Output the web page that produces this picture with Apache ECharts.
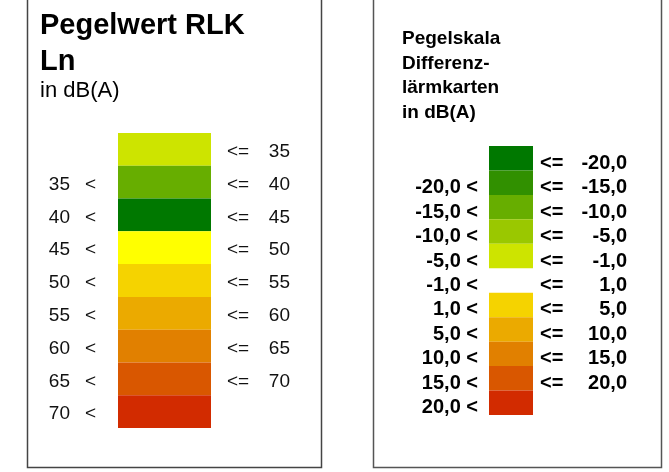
<!DOCTYPE html>
<html>
<head>
<meta charset="utf-8">
<script src="https://cdn.jsdelivr.net/npm/echarts@6/dist/echarts.min.js"></script>
<style>
  html, body { margin: 0; padding: 0; background: #fff; }
  #chart { width: 669px; height: 472px; }
</style>
</head>
<body>
<div id="chart"></div>
<script>
// Pegelwert RLK Ln (links)
const lnColors = ['#CDE400', '#67AE00', '#007800', '#FFFF00', '#F5D300', '#EBAA00', '#E18000', '#D95700', '#D22B00'];
const lnLower = ['', '35', '40', '45', '50', '55', '60', '65', '70'];
const lnUpper = ['35', '40', '45', '50', '55', '60', '65', '70', ''];

// Pegelskala Differenzlärmkarten (rechts), null = keine Farbe
const diffColors = ['#007800', '#319000', '#67AE00', '#9AC800', '#CDE400', null, '#F5D300', '#EBAA00', '#E18000', '#D95700', '#D22B00'];
const diffLower = ['', '-20,0', '-15,0', '-10,0', '-5,0', '-1,0', '1,0', '5,0', '10,0', '15,0', '20,0'];
const diffUpper = ['-20,0', '-15,0', '-10,0', '-5,0', '-1,0', '1,0', '5,0', '10,0', '15,0', '20,0', ''];

const FONT = "'Liberation Sans', Arial, sans-serif";

function rowData(colors) {
  return colors.map(c => c ? { value: 1, itemStyle: { color: c } } : '-');
}

function catAxis(gridIndex, colors, position, label) {
  return {
    type: 'category',
    gridIndex: gridIndex,
    position: position,
    inverse: true,
    data: colors.map((c, i) => String(i)),
    axisLine: { show: false },
    axisTick: { show: false },
    splitLine: { show: false },
    axisLabel: Object.assign({ interval: 0, padding: [5, 0, 0, 0] }, label)
  };
}

const boldLabel = { fontFamily: FONT, fontSize: 20, fontWeight: 'bold', color: '#000' };

const chart = echarts.init(document.getElementById('chart'));

chart.setOption({
  animation: false,
  backgroundColor: '#fff',
  title: [
    {
      text: 'Pegelwert RLK\nLn',
      left: 40,
      top: 8,
      padding: 0,
      textStyle: { fontFamily: FONT, fontSize: 29, fontWeight: 'bold', color: '#000', lineHeight: 36 }
    },
    {
      text: 'in dB(A)',
      left: 40,
      top: 79,
      padding: 0,
      textStyle: { fontFamily: FONT, fontSize: 22, fontWeight: 'normal', color: '#000', lineHeight: 24 }
    },
    {
      text: 'Pegelskala\nDifferenz-\nlärmkarten\nin dB(A)',
      left: 402,
      top: 27,
      padding: 0,
      textStyle: { fontFamily: FONT, fontSize: 19, fontWeight: 'bold', color: '#000', lineHeight: 24.5 }
    }
  ],
  grid: [
    { left: 118, width: 93, top: 133, height: 295 },
    { left: 489, width: 44, top: 146, height: 269 }
  ],
  xAxis: [
    { type: 'value', gridIndex: 0, min: 0, max: 1, show: false },
    { type: 'value', gridIndex: 1, min: 0, max: 1, show: false }
  ],
  yAxis: [
    catAxis(0, lnColors, 'left', {
      margin: 22,
      fontFamily: FONT,
      fontSize: 19,
      color: '#111',
      formatter: (v, i) => lnLower[i] ? `{v|${lnLower[i]}}{s|<}` : '',
      rich: {
        v: { width: 30, align: 'right', fontFamily: FONT, fontSize: 19, color: '#111' },
        s: { width: 26, align: 'right', fontFamily: FONT, fontSize: 19, color: '#111' }
      }
    }),
    catAxis(0, lnColors, 'right', {
      margin: 16,
      fontFamily: FONT,
      fontSize: 19,
      color: '#111',
      formatter: (v, i) => lnUpper[i] ? `{s|<=}{v|${lnUpper[i]}}` : '',
      rich: {
        s: { width: 42, align: 'left', fontFamily: FONT, fontSize: 19, color: '#111' },
        v: { width: 21, align: 'right', fontFamily: FONT, fontSize: 19, color: '#111' }
      }
    }),
    catAxis(1, diffColors, 'left', Object.assign({
      margin: 11,
      padding: [10, 0, 0, 0],
      formatter: (v, i) => diffLower[i] ? `{v|${diffLower[i]} <}` : '',
      rich: { v: Object.assign({ align: 'right' }, boldLabel) }
    }, boldLabel)),
    catAxis(1, diffColors, 'right', Object.assign({
      margin: 7,
      padding: [10, 0, 0, 0],
      formatter: (v, i) => diffUpper[i] ? `{s|<=}{v|${diffUpper[i]}}` : '',
      rich: {
        s: Object.assign({ width: 37, align: 'left' }, boldLabel),
        v: Object.assign({ width: 50, align: 'right' }, boldLabel)
      }
    }, boldLabel))
  ],
  series: [
    {
      type: 'bar',
      xAxisIndex: 0,
      yAxisIndex: 0,
      barCategoryGap: '0%',
      silent: true,
      data: rowData(lnColors)
    },
    {
      type: 'bar',
      xAxisIndex: 1,
      yAxisIndex: 2,
      barCategoryGap: '0%',
      silent: true,
      data: rowData(diffColors)
    }
  ],
  graphic: [
    {
      type: 'rect',
      shape: { x: 27.5, y: -2, width: 294, height: 469.5 },
      style: { fill: 'none', stroke: '#444', lineWidth: 1.5 }
    },
    {
      type: 'rect',
      shape: { x: 373.5, y: -2, width: 288, height: 469.5 },
      style: { fill: 'none', stroke: '#555', lineWidth: 1.5 }
    }
  ]
});
</script>
</body>
</html>
